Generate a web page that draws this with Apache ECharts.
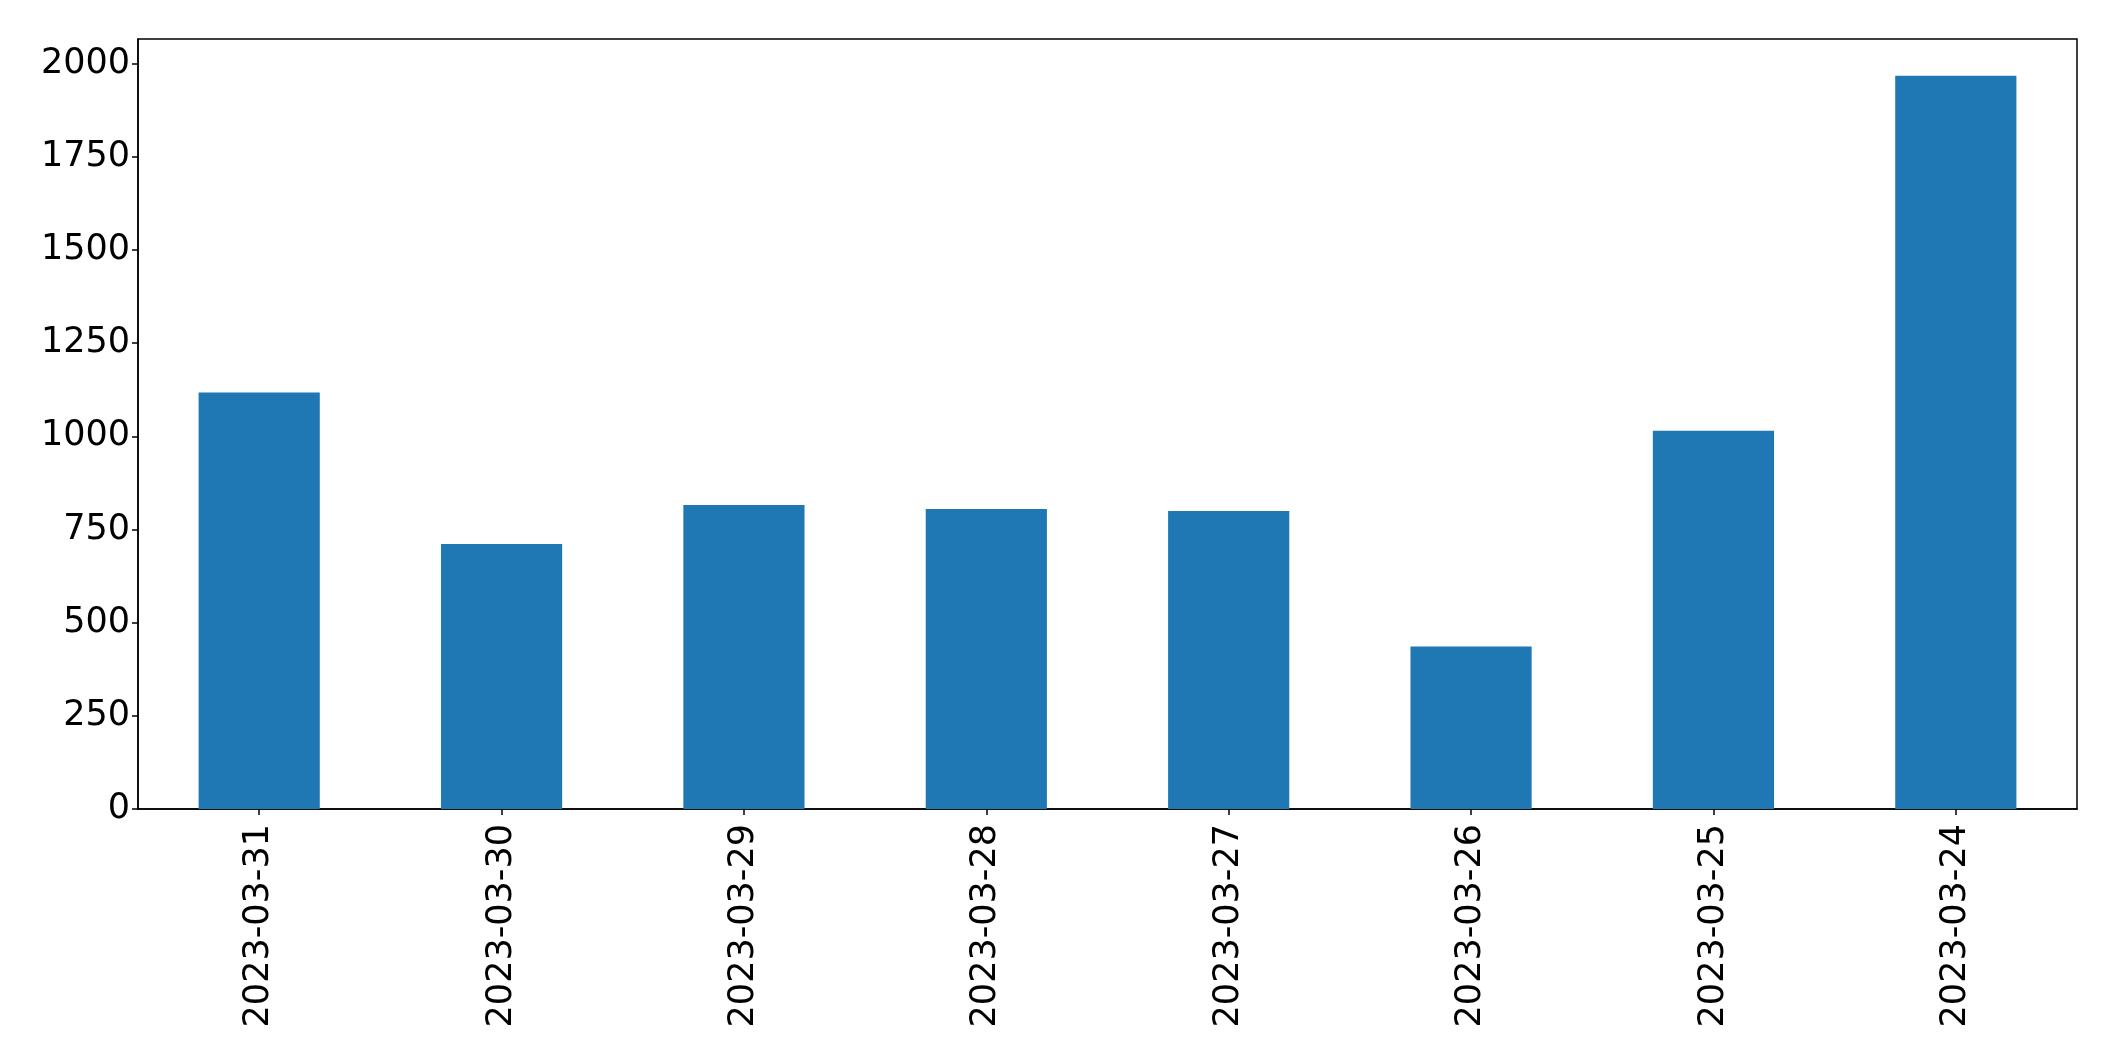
<!DOCTYPE html>
<html>
<head>
<meta charset="utf-8">
<script src="https://cdn.jsdelivr.net/npm/echarts@6/dist/echarts.min.js"></script>
<style>html,body{margin:0;padding:0;background:#fff}#c{width:2115px;height:1061px}</style>
</head>
<body>
<div id="c"></div>
<script>
const categories = ['2023-03-31','2023-03-30','2023-03-29','2023-03-28','2023-03-27','2023-03-26','2023-03-25','2023-03-24'];
const values = [1118, 711, 816, 805, 800, 436, 1015, 1968];
const yTicks = [0, 250, 500, 750, 1000, 1250, 1500, 1750, 2000];
const yMax = 2066.4;

const chart = echarts.init(document.getElementById('c'));
const font = 'DejaVu Sans';
chart.setOption({
  animation: false,
  backgroundColor: '#fff',
  grid: { left: 138, right: 38, top: 39, bottom: 252, show: true, borderColor: '#000', borderWidth: 1.5, backgroundColor: 'transparent' },
  xAxis: {
    type: 'category',
    data: categories,
    axisLine: { show: true, lineStyle: { color: '#000', width: 1.5 } },
    axisTick: { show: true, alignWithLabel: true, length: 6, lineStyle: { color: '#000', width: 1.5 } },
    axisLabel: { rotate: 90, margin: 15, color: '#000', fontSize: 35, fontFamily: font, interval: 0 },
    splitLine: { show: false }
  },
  yAxis: {
    type: 'value',
    min: 0,
    max: yMax,
    interval: 250,
    axisLine: { show: true, lineStyle: { color: '#000', width: 1.5 } },
    axisTick: { show: true, length: 6, customValues: yTicks, lineStyle: { color: '#000', width: 1.5 } },
    axisLabel: { margin: 8, color: '#000', fontSize: 35, fontFamily: font, customValues: yTicks,
      padding: [4, 0, 0, 0],
      formatter: v => String(Math.round(v)) },
    splitLine: { show: false }
  },
  series: [{
    type: 'bar',
    data: values,
    barWidth: '50%',
    itemStyle: { color: '#1f77b4' }
  }]
});
</script>
</body>
</html>
